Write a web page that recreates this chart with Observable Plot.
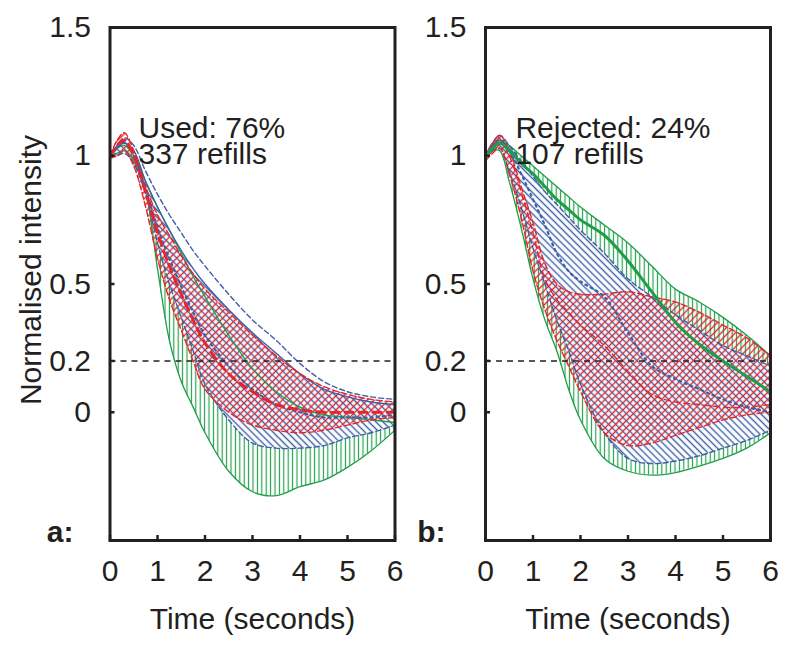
<!DOCTYPE html>
<html>
<head>
<meta charset="utf-8">
<script src="https://cdn.jsdelivr.net/npm/d3@7"></script>
<script src="https://cdn.jsdelivr.net/npm/@observablehq/plot@0.6"></script>
<style>
  html, body { margin: 0; padding: 0; background: #fff; }
  #chart { position: relative; width: 800px; height: 654px; overflow: hidden; }
  #chart > svg.panel { position: absolute; top: 0; }
</style>
</head>
<body>
<svg width="0" height="0" style="position:absolute">
  <defs>
    <pattern id="hatchGreen" patternUnits="userSpaceOnUse" width="4.4" height="10">
      <line x1="2.2" y1="0" x2="2.2" y2="10" stroke="#1f9e48" stroke-width="1.15"/>
    </pattern>
    <pattern id="hatchBlue" patternUnits="userSpaceOnUse" width="5" height="5" patternTransform="rotate(-45)">
      <rect width="5" height="5" fill="#ffffff"/>
      <line x1="2.5" y1="0" x2="2.5" y2="5" stroke="#3d5fa8" stroke-width="1.4"/>
    </pattern>
    <pattern id="hatchRed" patternUnits="userSpaceOnUse" width="5" height="5" patternTransform="rotate(45)">
      <line x1="2.5" y1="0" x2="2.5" y2="5" stroke="#e3262b" stroke-width="1.4"/>
    </pattern>
  </defs>
</svg>
<div id="chart"></div>
<script>
// ---------- data ----------
const time = [0, 0.15, 0.3, 0.5, 0.75, 1, 1.25, 1.5, 1.75, 2, 2.5, 3, 3.5, 4, 4.5, 5, 5.5, 6];
const xTicks = [0, 1, 2, 3, 4, 5, 6];
const yTicks = [0, 0.2, 0.5, 1, 1.5];
const threshold = 0.2;

// panel a: used
const greenHiA = [1.0, 1.03, 1.04, 1.0, 0.9, 0.8, 0.71, 0.62, 0.53, 0.45, 0.3, 0.17, 0.08, 0.02, -0.01, -0.02, -0.03, -0.04];
const greenLoA = [1.0, 1.01, 1.02, 0.98, 0.86, 0.56, 0.28, 0.12, 0.02, -0.08, -0.23, -0.31, -0.325, -0.29, -0.265, -0.215, -0.15, -0.07];
const blueHiA  = [1.0, 1.03, 1.05, 1.02, 0.9, 0.8, 0.71, 0.63, 0.56, 0.5, 0.4, 0.31, 0.23, 0.15, 0.09, 0.06, 0.04, 0.03];
const blueOutA = [1.0, 1.04, 1.07, 1.04, 0.94, 0.85, 0.77, 0.7, 0.63, 0.57, 0.46, 0.36, 0.28, 0.19, 0.12, 0.08, 0.06, 0.05];
const blueLoA  = [1.0, 1.0, 1.01, 0.97, 0.85, 0.66, 0.5, 0.37, 0.24, 0.11, -0.03, -0.12, -0.14, -0.14, -0.13, -0.1, -0.08, -0.05];
const blueMidA = [1.0, 1.03, 1.05, 1.0, 0.87, 0.72, 0.6, 0.49, 0.39, 0.3, 0.18, 0.09, 0.03, 0.0, -0.02, -0.02, -0.02, -0.01];
const redHiA   = [1.0, 1.06, 1.09, 1.02, 0.88, 0.77, 0.69, 0.61, 0.54, 0.48, 0.39, 0.3, 0.22, 0.15, 0.1, 0.07, 0.05, 0.04];
const redLoA   = [0.99, 1.0, 1.02, 0.96, 0.8, 0.6, 0.44, 0.32, 0.2, 0.09, 0.0, -0.05, -0.07, -0.08, -0.07, -0.05, -0.03, -0.02];
const redMidA  = [1.0, 1.04, 1.06, 1.0, 0.86, 0.7, 0.57, 0.46, 0.36, 0.27, 0.15, 0.08, 0.03, 0.01, 0.0, 0.0, 0.0, 0.0];

// panel b: rejected
const greenHiB  = [1.0, 1.04, 1.06, 1.04, 1.0, 0.96, 0.92, 0.88, 0.84, 0.8, 0.73, 0.66, 0.57, 0.48, 0.43, 0.37, 0.3, 0.22];
const greenLoB  = [1.0, 1.02, 1.02, 0.9, 0.72, 0.52, 0.36, 0.24, 0.09, -0.03, -0.18, -0.23, -0.245, -0.235, -0.21, -0.18, -0.14, -0.08];
const greenMidB = [1.0, 1.03, 1.05, 1.02, 0.97, 0.93, 0.88, 0.83, 0.79, 0.75, 0.69, 0.59, 0.47, 0.35, 0.265, 0.2, 0.14, 0.08];
const blueHiB   = [1.0, 1.05, 1.08, 1.04, 0.98, 0.92, 0.86, 0.81, 0.76, 0.71, 0.62, 0.52, 0.45, 0.38, 0.32, 0.26, 0.22, 0.18];
const blueLoB   = [1.0, 1.02, 1.03, 0.94, 0.8, 0.64, 0.5, 0.36, 0.24, 0.11, -0.08, -0.18, -0.2, -0.19, -0.17, -0.14, -0.11, -0.07];
const blueMidB  = [1.0, 1.04, 1.06, 1.02, 0.93, 0.83, 0.73, 0.62, 0.55, 0.51, 0.45, 0.31, 0.18, 0.13, 0.09, 0.05, 0.02, 0.0];
const redHiB    = [1.0, 1.05, 1.08, 1.02, 0.88, 0.74, 0.58, 0.5, 0.47, 0.46, 0.46, 0.47, 0.45, 0.43, 0.39, 0.34, 0.29, 0.22];
const redLoB    = [0.98, 1.01, 1.03, 0.93, 0.76, 0.55, 0.4, 0.28, 0.18, 0.08, -0.08, -0.13, -0.12, -0.09, -0.06, -0.03, -0.01, 0.0];
const redMidB   = [1.0, 1.04, 1.06, 1.0, 0.86, 0.7, 0.52, 0.44, 0.39, 0.34, 0.26, 0.16, 0.07, 0.04, 0.03, 0.02, 0.02, 0.03];

const noteA = "Used: 76%\n337 refills";
const noteB = "Rejected: 24%\n107 refills";
const yLabel = "Normalised intensity";
const xLabel = "Time (seconds)";

// ---------- styles ----------
const GREEN = "#1f9e48", BLUE = "#3d5fa8", RED = "#e3262b", INK = "#231f20";
const FONT = "'Liberation Sans', Arial, Helvetica, sans-serif";
const curve = "catmull-rom";

function band(lo, hi) { return time.map((t, i) => ({t, lo: lo[i], hi: hi[i]})); }
function series(v) { return time.map((t, i) => ({t, v: v[i]})); }

function panel(opts) {
  const {width, marginLeft, marginRight, green, blue, red, lines, note, noteX, tag, tagDx, showYLabel} = opts;
  const frameH = 540 - 27, frameW = width - marginLeft - marginRight;
  const marks = [
    Plot.areaY(band(green[0], green[1]), {x: "t", y1: "lo", y2: "hi", fill: "url(#hatchGreen)", curve, clip: true}),
    Plot.areaY(band(blue[0], blue[1]), {x: "t", y1: "lo", y2: "hi", fill: "url(#hatchBlue)", curve, clip: true}),
    Plot.areaY(band(red[0], red[1]), {x: "t", y1: "lo", y2: "hi", fill: "url(#hatchRed)", curve, clip: true}),
  ];
  for (const l of lines) {
    marks.push(Plot.line(series(l.v), {x: "t", y: "v", stroke: l.c, strokeWidth: l.w, strokeDasharray: l.d, curve, clip: true}));
  }
  marks.push(
    Plot.ruleY([threshold], {stroke: INK, strokeWidth: 1.6, strokeDasharray: "6,5"}),
    Plot.frame({stroke: INK, strokeWidth: 3}),
    Plot.tickX(xTicks, {x: d => d, stroke: INK, strokeWidth: 2.5, insetTop: frameH - 5}),
    Plot.tickY(yTicks, {y: d => d, stroke: INK, strokeWidth: 2.5, insetRight: frameW - 5}),
    Plot.axisX({ticks: xTicks, tickSize: 0, tickPadding: 19, tickFormat: d => String(d), label: null, fill: INK}),
    Plot.axisY({ticks: yTicks, tickSize: 0, tickPadding: 19, tickFormat: d => String(d), label: null, fill: INK}),
    Plot.text([xLabel], {frameAnchor: "bottom", dy: 88, lineAnchor: "bottom", fill: INK}),
    Plot.text([note], {x: noteX, y: 0.968, text: d => d, textAnchor: "start", lineAnchor: "bottom", lineHeight: 0.85, fill: INK}),
    Plot.text([tag], {frameAnchor: "bottom-left", dx: tagDx, dy: 1, textAnchor: "end", lineAnchor: "bottom", fontWeight: "bold", fill: INK})
  );
  if (showYLabel) {
    marks.push(Plot.text([yLabel], {frameAnchor: "left", rotate: -90, dx: -69, dy: -14, textAnchor: "middle", lineAnchor: "bottom", fill: INK}));
  }
  const svg = Plot.plot({
    width, height: 654,
    marginLeft, marginRight, marginTop: 27, marginBottom: 114,
    x: {domain: [0, 6]},
    y: {domain: [-0.5, 1.5]},
    style: {fontFamily: FONT, fontSize: "30px", color: INK, background: "transparent", overflow: "visible"},
    marks
  });
  svg.classList.add("panel");
  return svg;
}

const a = panel({
  width: 400, marginLeft: 109.5, marginRight: 5.5,
  green: [greenLoA, greenHiA], blue: [blueLoA, blueHiA], red: [redLoA, redHiA],
  lines: [
    {v: greenLoA, c: GREEN, w: 1.3}, {v: greenHiA, c: GREEN, w: 1.3},
    {v: blueLoA, c: BLUE, w: 1.4, d: "5,3"}, {v: blueHiA, c: BLUE, w: 1.4}, {v: blueOutA, c: BLUE, w: 1.4, d: "5,3"},
    {v: redLoA, c: RED, w: 1.4, d: "6,3"}, {v: redHiA, c: RED, w: 1.4, d: "6,3"},
    {v: blueMidA, c: BLUE, w: 2.2, d: "2,4"},
    {v: redMidA, c: RED, w: 3, d: "8,6"}
  ],
  note: noteA, noteX: 0.6, tag: "a:", tagDx: -36.5, showYLabel: true
});
a.style.left = "0px";

const b = panel({
  width: 372, marginLeft: 85, marginRight: 2,
  green: [greenLoB, greenHiB], blue: [blueLoB, blueHiB], red: [redLoB, redHiB],
  lines: [
    {v: greenLoB, c: GREEN, w: 1.3}, {v: greenHiB, c: GREEN, w: 1.3},
    {v: blueLoB, c: BLUE, w: 1.4, d: "5,3"}, {v: blueHiB, c: BLUE, w: 1.4, d: "5,3"},
    {v: redLoB, c: RED, w: 1.4, d: "6,3"}, {v: redHiB, c: RED, w: 1.4, d: "6,3"},
    {v: redMidB, c: RED, w: 1.4, d: "6,4"},
    {v: blueMidB, c: BLUE, w: 2.2, d: "2,4"},
    {v: greenMidB, c: GREEN, w: 3}
  ],
  note: noteB, noteX: 0.63, tag: "b:", tagDx: -40, showYLabel: false
});
b.style.left = "400px";

const chart = document.getElementById("chart");
chart.append(a, b);
</script>
</body>
</html>
